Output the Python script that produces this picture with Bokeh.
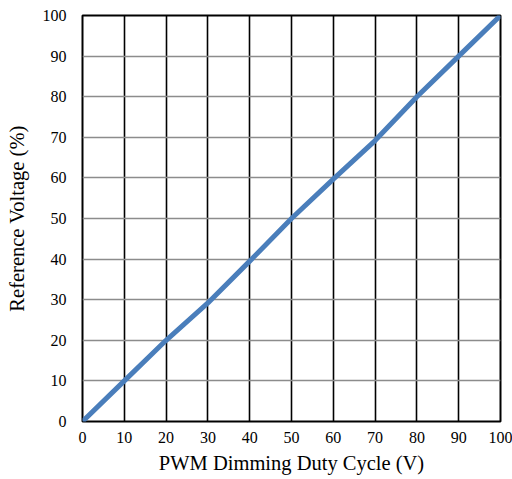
from bokeh.plotting import figure
from bokeh.models import Range1d, FixedTicker
from bokeh.embed import file_html
from bokeh.resources import INLINE

duty_cycle = [0, 10, 20, 30, 40, 50, 60, 70, 80, 90, 100]
ref_voltage = [0, 10, 20, 29.2, 39.5, 50, 59.7, 69.2, 80, 90, 100]
ticks = [0, 10, 20, 30, 40, 50, 60, 70, 80, 90, 100]

p = figure(width=512, height=479, output_backend="svg", toolbar_location=None,
           x_range=Range1d(0, 100), y_range=Range1d(0, 100),
           min_border_left=82, min_border_right=12, min_border_top=15, min_border_bottom=58)
p.background_fill_color = "white"
p.border_fill_color = "white"
p.outline_line_color = "black"
p.outline_line_width = 2

p.line(duty_cycle, ref_voltage, line_color="#4A7EBB", line_width=5)

font = "Liberation Serif"
p.xaxis.ticker = FixedTicker(ticks=ticks)
p.yaxis.ticker = FixedTicker(ticks=ticks)
p.axis.axis_line_color = None
p.axis.major_tick_line_color = None
p.axis.minor_tick_line_color = None
p.axis.major_tick_out = 0
p.axis.major_tick_in = 0
p.axis.major_label_text_font = font
p.axis.major_label_text_font_size = "16px"
p.axis.major_label_text_color = "black"
p.axis.axis_label_text_font = font
p.axis.axis_label_text_font_size = "20.5px"
p.axis.axis_label_text_font_style = "normal"
p.axis.axis_label_text_color = "black"

p.xaxis.axis_label = "PWM Dimming Duty Cycle (V)"
p.yaxis.axis_label = "Reference Voltage (%)"
p.xaxis.major_label_standoff = 10
p.yaxis.major_label_standoff = 16
p.xaxis.axis_label_standoff = 6
p.yaxis.axis_label_standoff = 12

p.xgrid.ticker = FixedTicker(ticks=ticks)
p.ygrid.ticker = FixedTicker(ticks=ticks)
p.xgrid.grid_line_color = "black"
p.xgrid.grid_line_width = 1.6
p.ygrid.grid_line_color = "#8c8c8c"
p.ygrid.grid_line_width = 1.6

open("out.html", "w").write(file_html(p, INLINE))
